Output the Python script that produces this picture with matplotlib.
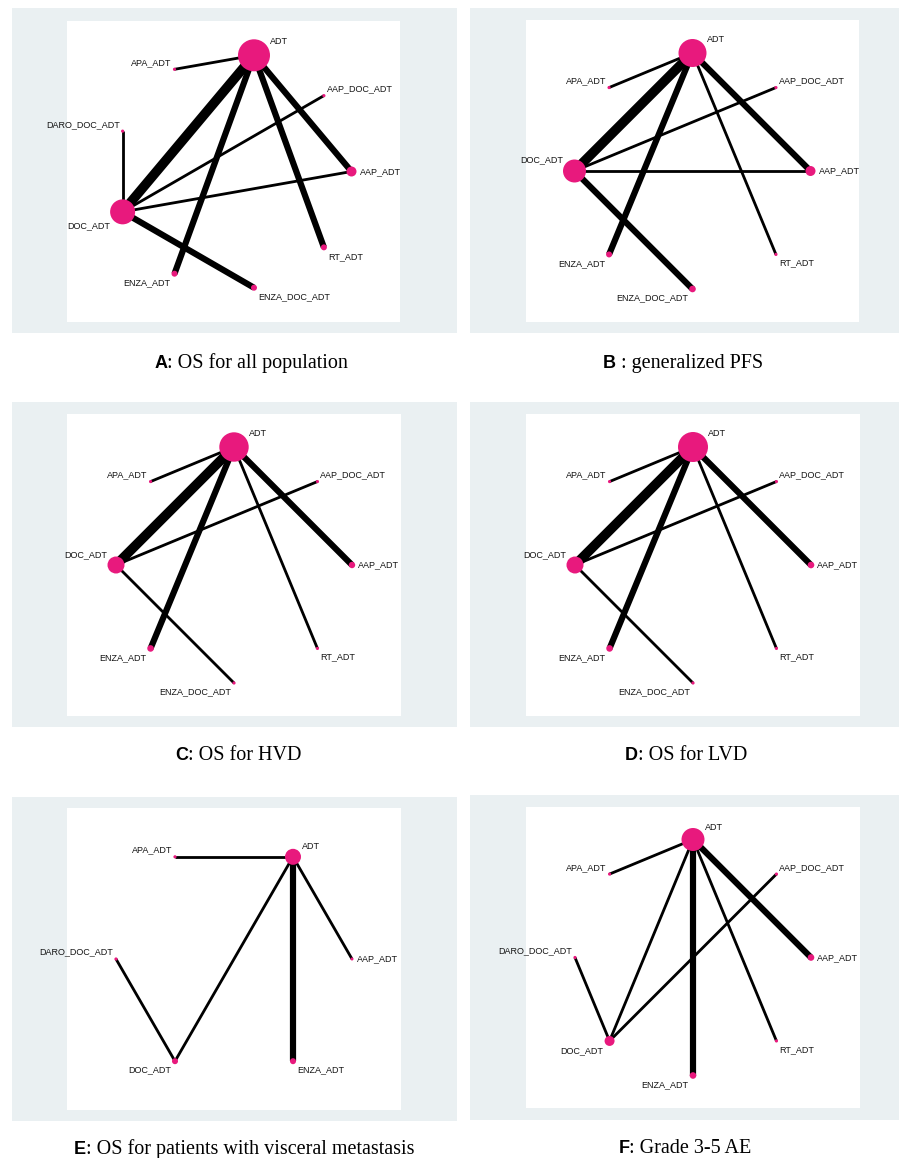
import numpy as np
import matplotlib
matplotlib.use("Agg")
import matplotlib.pyplot as plt
from matplotlib.patches import Rectangle

W, H, DPI = 899, 1158, 100

# ---- network data -------------------------------------------------------
# Node weights (drawn as marker radius) and edge weights (number of trials)

A_NODES = ["ADT", "AAP_DOC_ADT", "AAP_ADT", "RT_ADT", "ENZA_DOC_ADT",
           "ENZA_ADT", "DOC_ADT", "DARO_DOC_ADT", "APA_ADT"]
A_NODE_W = [16, 1.6, 5, 3, 3, 3, 12.5, 1.6, 1.6]
A_EDGES = [("ADT", "APA_ADT"), ("ADT", "DOC_ADT"), ("ADT", "ENZA_ADT"),
           ("ADT", "RT_ADT"), ("ADT", "AAP_ADT"), ("DOC_ADT", "DARO_DOC_ADT"),
           ("DOC_ADT", "AAP_DOC_ADT"), ("DOC_ADT", "AAP_ADT"),
           ("DOC_ADT", "ENZA_DOC_ADT")]
A_EDGE_W = [1, 3, 2, 2, 2, 1, 1, 1, 2]

B_NODES = ["ADT", "AAP_DOC_ADT", "AAP_ADT", "RT_ADT", "ENZA_DOC_ADT",
           "ENZA_ADT", "DOC_ADT", "APA_ADT"]
B_NODE_W = [14, 1.6, 5, 1.6, 3.3, 3, 11.5, 1.6]
B_EDGES = [("ADT", "APA_ADT"), ("ADT", "DOC_ADT"), ("ADT", "ENZA_ADT"),
           ("ADT", "RT_ADT"), ("ADT", "AAP_ADT"), ("DOC_ADT", "AAP_DOC_ADT"),
           ("DOC_ADT", "AAP_ADT"), ("DOC_ADT", "ENZA_DOC_ADT")]
B_EDGE_W = [1, 3, 2, 1, 2, 1, 1, 2]

C_NODES = ["ADT", "AAP_DOC_ADT", "AAP_ADT", "RT_ADT", "ENZA_DOC_ADT",
           "ENZA_ADT", "DOC_ADT", "APA_ADT"]
C_NODE_W = [14.7, 1.6, 3.2, 1.6, 1.6, 3.3, 8.5, 1.6]
C_EDGES = [("ADT", "APA_ADT"), ("ADT", "DOC_ADT"), ("ADT", "ENZA_ADT"),
           ("ADT", "RT_ADT"), ("ADT", "AAP_ADT"), ("DOC_ADT", "AAP_DOC_ADT"),
           ("DOC_ADT", "ENZA_DOC_ADT")]
C_EDGE_W = [1, 3, 2, 1, 2, 1, 1]

D_NODES = ["ADT", "AAP_DOC_ADT", "AAP_ADT", "RT_ADT", "ENZA_DOC_ADT",
           "ENZA_ADT", "DOC_ADT", "APA_ADT"]
D_NODE_W = [15, 1.6, 3.3, 1.6, 1.6, 3.3, 8.5, 1.6]
D_EDGES = [("ADT", "APA_ADT"), ("ADT", "DOC_ADT"), ("ADT", "ENZA_ADT"),
           ("ADT", "RT_ADT"), ("ADT", "AAP_ADT"), ("DOC_ADT", "AAP_DOC_ADT"),
           ("DOC_ADT", "ENZA_DOC_ADT")]
D_EDGE_W = [1, 3, 2, 1, 2, 1, 1]

E_NODES = ["ADT", "AAP_ADT", "ENZA_ADT", "DOC_ADT", "DARO_DOC_ADT", "APA_ADT"]
E_NODE_W = [8, 1.5, 3, 3, 1.6, 1.6]
E_EDGES = [("ADT", "APA_ADT"), ("ADT", "DOC_ADT"), ("ADT", "AAP_ADT"),
           ("ADT", "ENZA_ADT"), ("DOC_ADT", "DARO_DOC_ADT")]
E_EDGE_W = [1, 1, 1, 2, 1]

F_NODES = ["ADT", "AAP_DOC_ADT", "AAP_ADT", "RT_ADT", "ENZA_ADT",
           "DOC_ADT", "DARO_DOC_ADT", "APA_ADT"]
F_NODE_W = [11.5, 1.6, 3.3, 1.6, 3.3, 5, 1.6, 1.6]
F_EDGES = [("ADT", "APA_ADT"), ("ADT", "DOC_ADT"), ("ADT", "ENZA_ADT"),
           ("ADT", "RT_ADT"), ("ADT", "AAP_ADT"), ("DOC_ADT", "AAP_DOC_ADT"),
           ("DOC_ADT", "DARO_DOC_ADT")]
F_EDGE_W = [1, 1, 2, 1, 2, 1, 1]

CAPTION_KEYS = ["A", "B", "C", "D", "E", "F"]
CAPTION_TEXTS = [": OS for all population", " : generalized PFS",
                 ": OS for HVD", ": OS for LVD",
                 ": OS for patients with visceral metastasis",
                 ": Grade 3-5 AE"]

# ---- layout (pixels) ----------------------------------------------------
PANELS = [
    # nodes, weights, edges, edge weights, start angle, grey box, white box, caption centre x, baseline y
    (A_NODES, A_NODE_W, A_EDGES, A_EDGE_W, 10, (12, 8, 457, 333), (67, 21, 400, 322), 251, 368),
    (B_NODES, B_NODE_W, B_EDGES, B_EDGE_W, 0, (470, 8, 899, 333), (526, 20, 859, 322), 683, 368),
    (C_NODES, C_NODE_W, C_EDGES, C_EDGE_W, 0, (12, 402, 457, 727), (67, 414, 401, 716), 238, 760),
    (D_NODES, D_NODE_W, D_EDGES, D_EDGE_W, 0, (470, 402, 899, 727), (526, 414, 860, 716), 686, 760),
    (E_NODES, E_NODE_W, E_EDGES, E_EDGE_W, 30, (12, 797, 457, 1121), (67, 808, 401, 1110), 244, 1154),
    (F_NODES, F_NODE_W, F_EDGES, F_EDGE_W, 0, (470, 795, 899, 1120), (526, 807, 860, 1108), 685, 1153),
]

R_PX = 118.0
NODE_COLOR = "#e8197d"
PANEL_BG = "#eaf0f2"
LABEL_FONT = "Liberation Sans"
PX2PT = 72.0 / DPI

fig = plt.figure(figsize=(W / DPI, H / DPI), dpi=DPI)
fig.patch.set_facecolor("white")

bg = fig.add_axes([0, 0, 1, 1])
bg.set_xlim(0, W)
bg.set_ylim(H, 0)
bg.axis("off")


def edge_px(w):
    return 2.8 + 3.4 * (w - 1)


def label_offset(theta, r):
    t = theta % 360
    dx = 0.9 * r + 1.5
    up = 0.5 * r + 6.0
    down = 0.5 * r + 7.5
    if abs(t - 90) < 1e-6:
        return r + 3.0, 0.0, "left"
    if t < 90:
        return dx, up, "left"
    if t < 180:
        return dx, -down, "left"
    if t < 270:
        return -dx, -down, "right"
    return -dx, up, "right"


for (nodes, node_w, edges, edge_w, start, grey, white, cx, base_y) in PANELS:
    gx0, gy0, gx1, gy1 = grey
    bg.add_patch(Rectangle((gx0, gy0), gx1 - gx0, gy1 - gy0,
                           facecolor=PANEL_BG, edgecolor="none"))

    wx0, wy0, wx1, wy1 = white
    ww, wh = wx1 - wx0, wy1 - wy0
    ax = fig.add_axes([wx0 / W, 1 - wy1 / H, ww / W, wh / H])
    ax.set_facecolor("white")
    for sp in ax.spines.values():
        sp.set_visible(False)
    ax.set_xticks([])
    ax.set_yticks([])
    ax.set_xlim(-ww / 2 / R_PX, ww / 2 / R_PX)
    ax.set_ylim(-wh / 2 / R_PX, wh / 2 / R_PX)

    n = len(nodes)
    angles = [start + 360.0 * i / n for i in range(n)]
    pos = {name: (np.sin(np.radians(a)), np.cos(np.radians(a)))
           for name, a in zip(nodes, angles)}

    for (a, b), w in zip(edges, edge_w):
        xa, ya = pos[a]
        xb, yb = pos[b]
        ax.plot([xa, xb], [ya, yb], color="black",
                lw=edge_px(w) * PX2PT, solid_capstyle="butt", zorder=2)

    xs = [pos[nm][0] for nm in nodes]
    ys = [pos[nm][1] for nm in nodes]
    sizes = [(2 * r * PX2PT) ** 2 for r in node_w]
    ax.scatter(xs, ys, s=sizes, color=NODE_COLOR, linewidths=0, zorder=3)

    for nm, a, r in zip(nodes, angles, node_w):
        dx, dy, ha = label_offset(a, r)
        ax.annotate(nm, xy=pos[nm], xytext=(dx, dy), textcoords="offset pixels",
                    ha=ha, va="center", fontsize=6.5, family=LABEL_FONT,
                    color="#141414", zorder=4, annotation_clip=False)

# ---- captions -------------------------------------------------------------
caption_parts = []
for (panel, key, txt) in zip(PANELS, CAPTION_KEYS, CAPTION_TEXTS):
    cx, base_y = panel[7], panel[8]
    yf = 1 - base_y / H
    t1 = fig.text(0, yf, key, fontsize=13, fontweight="bold",
                  family="Liberation Sans", va="baseline", ha="left")
    t2 = fig.text(0, yf, txt, fontsize=14.5, family="Liberation Serif",
                  va="baseline", ha="left")
    caption_parts.append((t1, t2, cx))

fig.canvas.draw()
renderer = fig.canvas.get_renderer()
for t1, t2, cx in caption_parts:
    w1 = t1.get_window_extent(renderer).width
    w2 = t2.get_window_extent(renderer).width
    left = cx - (w1 + w2) / 2
    t1.set_x(left / W)
    t2.set_x((left + w1) / W)

fig.savefig("out.png", dpi=DPI, facecolor="white")
